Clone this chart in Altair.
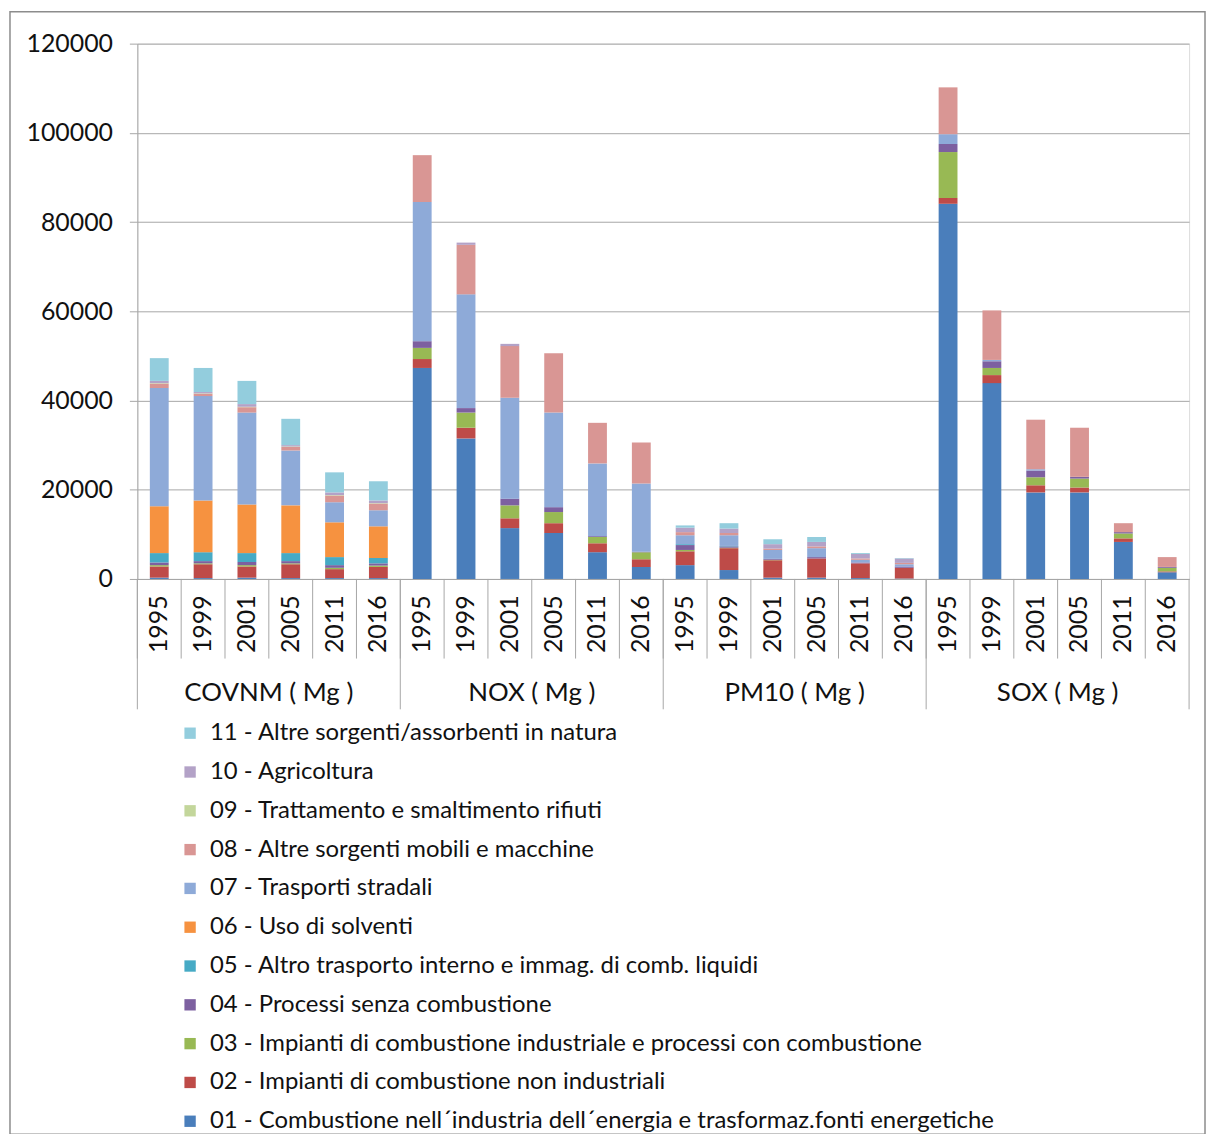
import altair as alt
import pandas as pd

groups = ["COVNM ( Mg )", "NOX ( Mg )", "PM10 ( Mg )", "SOX ( Mg )"]
years = ["1995", "1999", "2001", "2005", "2011", "2016"]
sectors = [
    "01 - Combustione nell\u00b4industria dell\u00b4energia e trasformaz.fonti energetiche",
    "02 - Impianti di combustione non industriali",
    "03 - Impianti di combustione industriale e processi con combustione",
    "04 - Processi senza combustione",
    "05 - Altro trasporto interno e immag. di comb. liquidi",
    "06 - Uso di solventi",
    "07 - Trasporti stradali",
    "08 - Altre sorgenti mobili e macchine",
    "09 - Trattamento e smaltimento rifiuti",
    "10 - Agricoltura",
    "11 - Altre sorgenti/assorbenti in natura",
]
colors = ["#4a7ebb", "#be4b48", "#98b954", "#7d60a0", "#46aac5", "#f69240",
          "#8eaad8", "#d99694", "#c3d69b", "#b3a2c7", "#93cddd"]

# values per sector, order: COVNM 1995..2016, NOX ..., PM10 ..., SOX ...
s01 = [300, 200, 300, 200, 200, 200, 47300, 31500, 11400, 10300, 6000, 2700,
       3100, 2000, 300, 300, 200, 100, 84100, 43900, 19400, 19400, 8300, 1500]
s02 = [2500, 3100, 2500, 3100, 2000, 2500, 2000, 2400, 2200, 2200, 2000, 1700,
       3100, 4900, 3900, 4300, 3300, 2400, 1300, 1800, 1600, 1100, 800, 200]
s03 = [300, 200, 300, 200, 300, 300, 2500, 3400, 2900, 2500, 1400, 1600,
       300, 100, 100, 0, 0, 0, 10300, 1600, 1800, 2000, 1100, 800]
s04 = [600, 500, 700, 500, 600, 500, 1500, 1000, 1500, 1100, 200, 100,
       1100, 300, 200, 300, 200, 300, 1800, 1500, 1500, 400, 300, 200]
s05 = [2100, 2000, 2000, 1800, 1800, 1200, 0, 0, 0, 0, 0, 0,
       200, 100, 0, 0, 0, 0, 0, 0, 0, 0, 0, 0]
s06 = [10500, 11600, 10900, 10700, 7800, 7100, 0, 0, 0, 0, 0, 0,
       0, 0, 0, 0, 0, 0, 0, 0, 0, 0, 0, 0]
s07 = [26500, 23400, 20600, 12300, 4500, 3600, 31200, 25500, 22600, 21200, 16300, 15300,
       2000, 2400, 2000, 2000, 600, 500, 2200, 300, 300, 0, 0, 0]
s08 = [1000, 500, 1200, 800, 1500, 1500, 10500, 11100, 11600, 13300, 9100, 9200,
       700, 500, 300, 400, 300, 300, 10500, 11100, 11100, 11000, 2000, 2200]
s09 = [100, 100, 100, 100, 100, 100, 0, 0, 0, 0, 0, 0,
       0, 0, 0, 0, 0, 0, 0, 0, 0, 0, 0, 0]
s10 = [500, 300, 600, 300, 600, 600, 0, 500, 500, 0, 0, 0,
       1000, 1000, 1000, 1000, 1000, 1000, 0, 0, 0, 0, 0, 0]
s11 = [5100, 5400, 5200, 5900, 4500, 4300, 0, 0, 0, 0, 0, 0,
       500, 1200, 1100, 1100, 200, 100, 0, 0, 0, 0, 0, 0]
y_ticks = [0, 20000, 40000, 60000, 80000, 100000, 120000]

series = [s01, s02, s03, s04, s05, s06, s07, s08, s09, s10, s11]
keys = [f"{g}|{y}" for g in groups for y in years]
rows = []
for si, (name, vals) in enumerate(zip(sectors, series)):
    for k, v in zip(keys, vals):
        if v > 0:
            rows.append({"key": k, "sector": name, "ord": si, "value": v})
df = pd.DataFrame(rows)
df_keys = pd.DataFrame({"key": keys})
df_groups = pd.DataFrame({"key": [f"{g}|2005" for g in groups], "label": groups})
df_gsep = pd.DataFrame({"key": [f"{g}|1995" for g in groups]})
one = pd.DataFrame({"a": [0]})

W, H = 1057, 538
FONT = "Lato"
GRID = "#a6a6a6"
TXT = "#111111"

xscale = alt.Scale(domain=keys, paddingInner=0, paddingOuter=0)
xaxis = alt.Axis(title=None, labelExpr="split(datum.value, '|')[1]", labelAngle=270,
                 labelFontSize=25, labelFont=FONT, labelColor=TXT, labelPadding=16,
                 ticks=False, domainColor=GRID, labelBaseline="middle", labelAlign="right")

bars = alt.Chart(df).mark_bar(width=alt.RelativeBandSize(0.43)).encode(
    x=alt.X("key:N", scale=xscale, axis=xaxis, sort=keys),
    y=alt.Y("sum(value):Q", stack="zero",
            scale=alt.Scale(domain=[0, 120000], nice=False),
            axis=alt.Axis(title=None, values=y_ticks, format="d", grid=True,
                          gridColor=GRID, domainColor=GRID, tickColor=GRID, tickSize=8,
                          labelFontSize=25, labelFont=FONT, labelColor=TXT,
                          labelPadding=17)),
    color=alt.Color("sector:N",
                    scale=alt.Scale(domain=sectors[::-1], range=colors[::-1]),
                    legend=alt.Legend(orient="none", legendX=41, legendY=681, title=None,
                                      symbolType="square", symbolSize=130,
                                      symbolStrokeWidth=0, labelFontSize=24,
                                      labelFont=FONT, labelColor=TXT,
                                      rowPadding=15.0, labelOffset=8, labelLimit=0,
                                      padding=0)),
    order=alt.Order("ord:Q", sort="ascending"),
)

year_sep = alt.Chart(df_keys).mark_rule(color=GRID, strokeWidth=1).encode(
    x=alt.X("key:N", scale=xscale, axis=xaxis, bandPosition=0, sort=keys),
    y=alt.value(H), y2=alt.value(H + 80),
)
group_sep = alt.Chart(df_gsep).mark_rule(color=GRID, strokeWidth=1).encode(
    x=alt.X("key:N", scale=xscale, axis=xaxis, bandPosition=0, sort=keys),
    y=alt.value(H), y2=alt.value(H + 131),
)
end_sep = alt.Chart(one).mark_rule(color=GRID, strokeWidth=1).encode(
    x=alt.value(W), y=alt.value(H), y2=alt.value(H + 131),
)
group_labels = alt.Chart(df_groups).mark_text(fontSize=26, font=FONT, color=TXT,
                                              baseline="middle", align="center").encode(
    x=alt.X("key:N", scale=xscale, axis=xaxis, bandPosition=0, sort=keys),
    y=alt.value(H + 115),
    text="label:N",
)
frame = alt.Chart(one).mark_rect(fillOpacity=0, stroke="#8c8c8c", strokeWidth=1.5).encode(
    x=alt.value(-128), x2=alt.value(W + 16), y=alt.value(-32), y2=alt.value(H + 558),
)

chart = alt.layer(frame, bars, year_sep, group_sep, end_sep, group_labels).properties(
    width=W, height=H,
    padding={"left": 130, "top": 33, "right": 18, "bottom": 555},
    autosize=alt.AutoSizeParams(type="none"),
).configure_view(stroke=None).configure(font=FONT)

chart.save("out.html", embed_options={"renderer": "svg", "actions": False})
